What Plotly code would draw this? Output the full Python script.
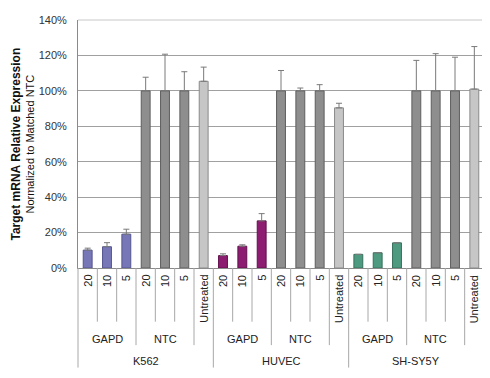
import plotly.graph_objects as go

# ---------------- data ----------------
cell_lines = ["K562", "HUVEC", "SH-SY5Y"]
treatments = ["GAPD", "GAPD", "GAPD", "NTC", "NTC", "NTC", "Untreated"]
dose_labels = ["20", "10", "5", "20", "10", "5", "Untreated"]

k562_values = [10.1, 12.0, 19.1, 100, 100, 100, 105.4]
k562_err = [1.1, 2.3, 2.8, 7.7, 20.7, 10.8, 8.0]
huvec_values = [7.0, 12.3, 26.6, 100, 100, 100, 90.4]
huvec_err = [1.0, 0.8, 4.1, 11.5, 1.6, 3.5, 2.6]
shsy5y_values = [7.7, 8.6, 14.2, 100, 100, 100, 101.0]
shsy5y_err = [0.0, 0.0, 0.0, 17.2, 21.0, 19.0, 24.0]

y_ticks = [0, 20, 40, 60, 80, 100, 120, 140]
y_tick_labels = ["0%", "20%", "40%", "60%", "80%", "100%", "120%", "140%"]

gapd_colors = {"K562": "#7777B8", "HUVEC": "#8C1D70", "SH-SY5Y": "#4E9A80"}
gapd_lines = {"K562": "#55558F", "HUVEC": "#63104F", "SH-SY5Y": "#357059"}
ntc_color, ntc_line = "#8E8E8E", "#5E5E5E"
untr_color, untr_line = "#C6C6C6", "#8A8A8A"

all_values = [k562_values, huvec_values, shsy5y_values]
all_err = [k562_err, huvec_err, shsy5y_err]

# ---------------- build ----------------
xcats, vals, errs, fills, lines = [], [], [], [], []
for cl, v, e in zip(cell_lines, all_values, all_err):
    for tr, d, vv, ee in zip(treatments, dose_labels, v, e):
        xcats.append(f"{cl}|{tr}|{d}")
        vals.append(vv)
        errs.append(ee)
        if tr == "GAPD":
            fills.append(gapd_colors[cl]); lines.append(gapd_lines[cl])
        elif tr == "NTC":
            fills.append(ntc_color); lines.append(ntc_line)
        else:
            fills.append(untr_color); lines.append(untr_line)

FONT = "Arial, Liberation Sans, sans-serif"

fig = go.Figure()
fig.add_trace(go.Bar(
    x=xcats, y=vals, width=0.46,
    marker=dict(color=fills, line=dict(color=lines, width=1)),
    error_y=dict(type="data", symmetric=False, array=errs,
                 arrayminus=[0] * len(errs), color="#7A7A7A",
                 thickness=1, width=3),
    showlegend=False, hoverinfo="x+y",
))

PLOT_H = 254.0
def py(pix_below):
    return -pix_below / PLOT_H

annotations = []
shapes = []
n = len(xcats)
# level-1 labels (rotated)
for i, cat in enumerate(xcats):
    annotations.append(dict(
        x=cat, xref="x", y=0, yref="paper", yanchor="top", yshift=-5,
        text=dose_labels[i % 7], textangle=-90, showarrow=False,
        font=dict(family=FONT, size=11, color="#222222")))
# level-2 labels
for c, cl in enumerate(cell_lines):
    for gi, name in [(1, "GAPD"), (4, "NTC")]:
        annotations.append(dict(
            x=xcats[c * 7 + gi], xref="x", y=py(73), yref="paper",
            yanchor="middle", text=name, showarrow=False,
            font=dict(family=FONT, size=11, color="#222222")))
    annotations.append(dict(
        x=xcats[c * 7 + 3], xref="x", y=py(95), yref="paper",
        yanchor="middle", text=cl, showarrow=False,
        font=dict(family=FONT, size=11, color="#222222")))

# y title
annotations.append(dict(
    x=0, xref="paper", xanchor="right", xshift=-41, y=0.5, yref="paper",
    yanchor="middle", textangle=-90, showarrow=False,
    text=("<span style='font-size:12px'><b>Target mRNA Relative Expression</b></span>"
          "<br>Normalized to Matched NTC"),
    font=dict(family=FONT, size=11, color="#111111")))

# separators
for i in range(n - 1):
    k = (i + 1) % 7
    if k == 0:
        depth = 102
    elif k in (3, 6):
        depth = 79
    else:
        depth = 55
    shapes.append(dict(type="line", xref="x", yref="paper",
                       x0=i + 0.5, x1=i + 0.5, y0=0, y1=py(depth),
                       line=dict(color="#A8A8A8", width=1)))
for xp in (0, 1):
    shapes.append(dict(type="line", xref="paper", yref="paper",
                       x0=xp, x1=xp, y0=0 if xp == 0 else 1, y1=py(102),
                       line=dict(color="#A8A8A8" if xp == 0 else "#C8C8C8", width=1)))
shapes.append(dict(type="line", xref="paper", yref="paper",
                   x0=0, x1=1, y0=1, y1=1, line=dict(color="#C8C8C8", width=1)))

# page body has an 8px margin, so the figure is 8px smaller and offset
fig.update_layout(
    width=482, height=370,
    margin=dict(l=70, r=6, t=6, b=110),
    paper_bgcolor="white", plot_bgcolor="white",
    font=dict(family=FONT, size=11, color="#333333"),
    annotations=annotations, shapes=shapes,
    xaxis=dict(type="category", categoryorder="array", categoryarray=xcats,
               range=[-0.5, n - 0.5], showticklabels=False, ticks="",
               showgrid=False, showline=True, linecolor="#8A8A8A",
               linewidth=1, zeroline=False),
    yaxis=dict(range=[0, 140], tickvals=y_ticks, ticktext=y_tick_labels,
               showgrid=True, gridcolor="#A0A0A0", gridwidth=1,
               showline=True, linecolor="#8A8A8A", linewidth=1,
               zeroline=False, ticks="", ticklabelstandoff=8,
               ticklabeloverflow="allow",
               tickfont=dict(family=FONT, size=11, color="#333333")),
)

fig.write_html("out.html")
